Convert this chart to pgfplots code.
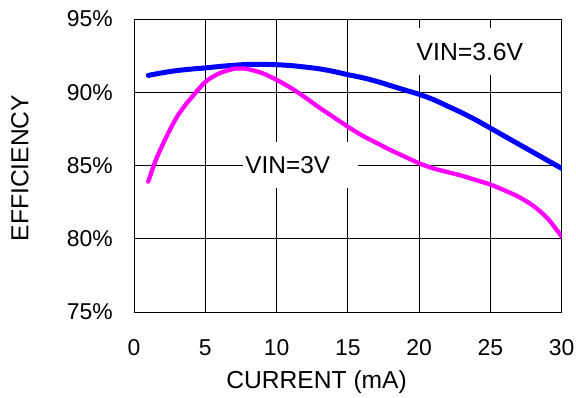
\documentclass[border=0pt]{standalone}
\usepackage{pgfplots}
\pgfplotsset{compat=1.18}
\usepackage{fontspec}
\setmainfont{Liberation Sans}
\definecolor{vblue}{RGB}{0,0,255}
\definecolor{vmag}{RGB}{255,0,255}
\begin{document}
\begin{tikzpicture}
\begin{axis}[
  scale only axis,
  width=427.7bp, height=293bp,
  xmin=0, xmax=30, ymin=75, ymax=95,
  xtick={0,5,10,15,20,25,30},
  xticklabels={0,5,10,15,20,25,30},
  ytick={75,80,85,90,95},
  yticklabels={75\%,80\%,85\%,90\%,95\%},
  grid=major,
  major grid style={black, line width=0.8bp},
  axis line style={black, line width=0.9bp},
  tick style={draw=none},
  x tick label style={font=\fontsize{23}{26}\selectfont, anchor=center, inner sep=0pt, yshift=-35.5bp},
  y tick label style={font=\fontsize{23}{26}\selectfont, anchor=east, inner sep=0pt, xshift=-21bp},
  xlabel={CURRENT (mA)},
  ylabel={EFFICIENCY},
  xlabel style={font=\fontsize{24.7}{28}\selectfont, at={(axis description cs:0.427,0)}, anchor=center, inner sep=0pt, yshift=-70.5bp},
  ylabel style={font=\fontsize{24.7}{28}\selectfont, at={(axis description cs:0,0.491)}, anchor=center, inner sep=0pt, yshift=114bp},
  clip=true,
]
\coordinate (sw) at (rel axis cs:0,0);
\fill[white] (axis cs:7.64,83.46) rectangle (axis cs:15.71,86.6);
\fill[white] (axis cs:18.6,91.18) rectangle (axis cs:28.6,94.4);
\addplot[vblue, line width=5bp, smooth, line cap=round] coordinates {
(1,91.15) (2,91.33) (3,91.48) (4,91.58) (5,91.66) (6,91.76) (7,91.84) (8,91.9) (9,91.9) (10,91.88)
(11,91.82) (12,91.72) (13,91.6) (14,91.42) (15,91.2) (16,91.0) (17,90.75) (18,90.45) (19,90.15) (20,89.86)
(21,89.5) (22,89.05) (23,88.6) (24,88.1) (25,87.55) (26,87.0) (27,86.45) (28,85.9) (29,85.35) (30,84.8)
};
\addplot[vmag, line width=4.3bp, smooth, line cap=round] coordinates {
(1,83.9) (1.5,85.3) (2,86.4) (2.5,87.4) (3,88.3) (3.5,89.0) (4,89.6) (5,90.7) (6,91.3) (7,91.6) (7.5,91.62)
(8,91.58) (9,91.3) (10,90.85) (11,90.3) (12,89.65) (13,88.95) (14,88.3) (15,87.65) (16,87.05) (17,86.55)
(18,86.05) (19,85.6) (20,85.15) (21,84.8) (22,84.55) (23,84.3) (24,84.0) (25,83.7) (26,83.3) (27,82.85)
(28,82.25) (29,81.4) (30,80.15)
};
\node[font=\fontsize{24.8}{28}\selectfont, anchor=center, inner sep=0pt] at (axis cs:23.56,92.75) {VIN=3.6V};
\node[font=\fontsize{24.5}{28}\selectfont, anchor=west, inner sep=0pt] at (axis cs:7.8,85.03) {VIN=3V};
\end{axis}
\pgfresetboundingbox
\path ([shift={(-134bp,-86bp)}]sw) rectangle ++(576bp,398bp);
\end{tikzpicture}
\end{document}
